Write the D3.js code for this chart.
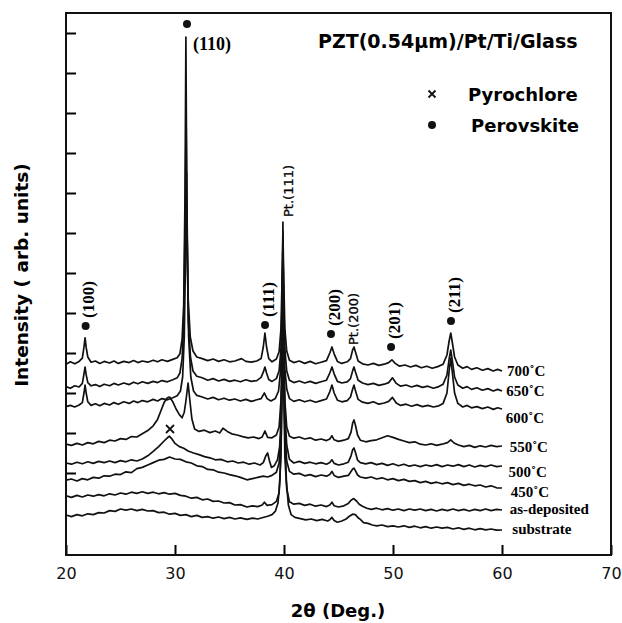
<!DOCTYPE html>
<html>
<head>
<meta charset="utf-8">
<script src="https://cdn.jsdelivr.net/npm/d3@7"></script>
<style>
  body { margin: 0; background: #fff; }
  svg { display: block; }
  .serif { font-family: "Liberation Serif", "Times New Roman", serif; font-weight: bold; }
  .sans { font-family: "DejaVu Sans", sans-serif; }
</style>
</head>
<body>
<div id="graph"></div>
<script>
// 2theta (deg) vs intensity (arb. units), curves already stacked
const s700 = [[20,47.2],[20.4,47.8],[20.8,47.3],[21.2,47.9],[21.5,48.7],[21.65,51.5],[21.75,53.8],[21.85,51.4],[22.0,49.0],[22.3,47.7],[22.7,48.0],[23.1,47.4],[23.5,47.9],[24.0,47.5],[24.4,48.0],[24.8,47.4],[25.3,47.9],[25.8,47.6],[26.2,48.1],[26.6,47.6],[27.0,48.0],[27.5,47.7],[28.0,48.2],[28.4,47.8],[28.8,48.3],[29.3,47.9],[29.8,48.4],[30.2,48.8],[30.45,49.8],[30.65,53.5],[30.8,62],[30.92,90],[31.0,129],[31.08,90],[31.2,64],[31.4,54],[31.65,50.5],[32.0,49.0],[32.5,48.6],[33.0,48.1],[33.5,48.5],[34.0,47.9],[34.5,48.3],[35.0,47.8],[35.5,48.0],[36.1,48.6],[36.5,47.9],[37.0,47.7],[37.5,48.0],[37.9,48.6],[38.1,51.5],[38.25,55],[38.4,51.5],[38.6,48.6],[38.9,47.8],[39.3,48.5],[39.55,50.3],[39.72,56],[39.82,68],[39.9,80.5],[39.98,68],[40.08,56],[40.25,50.5],[40.5,48.2],[40.9,47.6],[41.4,48.0],[41.9,47.4],[42.4,47.9],[42.9,47.3],[43.4,47.7],[43.9,48.1],[44.2,50.0],[44.4,51.5],[44.6,49.8],[44.9,47.9],[45.3,47.4],[45.8,47.8],[46.1,48.6],[46.3,50.8],[46.42,51.5],[46.55,50.3],[46.8,48.0],[47.2,47.3],[47.7,47.0],[48.2,47.4],[48.7,46.9],[49.2,47.2],[49.6,47.6],[49.9,48.3],[50.2,47.4],[50.6,46.7],[51.1,47.0],[51.6,46.5],[52.1,46.9],[52.6,46.3],[53.1,46.7],[53.6,46.2],[54.1,46.6],[54.6,47.2],[54.95,49.5],[55.15,53],[55.3,55],[55.45,52.5],[55.65,49],[55.95,47.0],[56.4,46.2],[56.8,46.6],[57.2,45.9],[57.7,46.3],[58.2,45.7],[58.7,46.1],[59.2,45.5],[59.6,45.9],[60,45.5]];

const s650 = [[20,41.6],[20.4,41.2],[20.8,41.8],[21.2,41.5],[21.5,42.4],[21.65,44.8],[21.75,46.5],[21.85,44.6],[22.0,42.6],[22.3,41.8],[22.7,42.1],[23.1,41.6],[23.5,42.2],[24.0,41.8],[24.4,42.4],[24.8,42.0],[25.3,42.5],[25.8,42.1],[26.2,42.7],[26.6,42.3],[27.0,42.8],[27.5,42.4],[28.0,42.9],[28.4,42.6],[28.8,43.1],[29.3,42.8],[29.8,43.3],[30.2,43.8],[30.45,45],[30.65,48.5],[30.8,57],[30.92,82],[31.02,108],[31.1,82],[31.22,58],[31.42,49],[31.65,45.5],[32.0,44.2],[32.5,43.8],[33.0,43.2],[33.5,43.6],[34.0,43.0],[34.5,43.4],[35.0,42.9],[35.5,43.2],[36.0,42.8],[36.5,43.3],[37.0,42.9],[37.5,43.1],[37.9,43.9],[38.1,45.2],[38.25,46.5],[38.4,45.0],[38.6,43.4],[38.9,42.9],[39.3,43.6],[39.55,45.5],[39.72,51],[39.82,62],[39.9,77],[39.98,62],[40.08,51],[40.25,45.5],[40.5,43.2],[40.9,42.6],[41.4,43.0],[41.9,42.5],[42.4,42.9],[42.9,42.4],[43.4,42.8],[43.9,43.2],[44.2,45.0],[44.4,46.5],[44.6,44.8],[44.9,42.9],[45.3,42.5],[45.8,42.8],[46.1,43.6],[46.3,45.6],[46.42,46.5],[46.55,45.3],[46.8,43.2],[47.2,42.5],[47.7,42.1],[48.2,42.4],[48.7,41.9],[49.2,42.2],[49.6,42.6],[49.95,43.8],[50.3,42.4],[50.7,41.7],[51.2,42.0],[51.7,41.5],[52.2,41.9],[52.7,41.4],[53.2,41.7],[53.7,41.2],[54.2,41.6],[54.6,42.2],[54.95,44.5],[55.15,48.5],[55.3,50.75],[55.45,48],[55.65,44],[55.95,42.0],[56.4,41.2],[56.8,41.6],[57.2,40.9],[57.7,41.3],[58.2,40.7],[58.7,41.1],[59.2,40.5],[59.6,40.9],[60,40.5]];

const s600 = [[20,36.6],[20.4,36.9],[20.8,36.5],[21.2,37.0],[21.5,37.6],[21.65,40.0],[21.75,42.0],[21.85,40.0],[22.0,37.8],[22.3,36.9],[22.7,37.3],[23.1,36.8],[23.5,37.4],[24.0,37.0],[24.4,37.6],[24.8,37.2],[25.3,37.8],[25.8,37.4],[26.2,38.0],[26.6,37.6],[27.0,38.1],[27.5,37.8],[28.0,38.4],[28.4,38.0],[28.8,38.6],[29.3,38.3],[29.8,38.8],[30.2,39.3],[30.5,40.5],[30.7,44],[30.85,54],[30.97,75],[31.05,95],[31.13,75],[31.25,54],[31.45,44],[31.7,40.5],[32.0,39.4],[32.5,39.0],[33.0,38.5],[33.5,38.9],[34.0,38.3],[34.5,38.7],[35.0,38.2],[35.5,38.5],[36.0,38.0],[36.5,38.4],[37.0,37.9],[37.5,38.3],[37.9,38.6],[38.2,40.0],[38.45,38.6],[38.8,38.0],[39.2,38.6],[39.5,40.5],[39.7,46],[39.8,57],[39.9,72],[39.98,57],[40.08,46],[40.25,41],[40.5,38.6],[40.9,37.9],[41.4,38.3],[41.9,37.8],[42.4,38.2],[42.9,37.7],[43.4,38.1],[43.9,38.5],[44.2,40.3],[44.4,42.0],[44.6,40.0],[44.9,38.2],[45.3,37.8],[45.8,38.1],[46.1,39.0],[46.3,41.0],[46.42,42.0],[46.55,40.6],[46.8,38.4],[47.2,37.7],[47.7,37.4],[48.2,37.8],[48.7,37.2],[49.2,37.5],[49.6,37.9],[49.95,38.9],[50.3,37.5],[50.7,36.9],[51.2,37.2],[51.7,36.7],[52.2,37.1],[52.7,36.6],[53.2,36.9],[53.7,36.5],[54.2,36.8],[54.6,37.4],[54.95,40],[55.15,45.5],[55.3,48.75],[55.45,45],[55.65,40],[55.95,37.4],[56.4,36.5],[56.8,36.9],[57.2,36.3],[57.7,36.6],[58.2,36.1],[58.7,36.5],[59.2,35.9],[59.6,36.3],[60,36.0]];

const s550 = [[20,27.2],[20.5,26.9],[21.0,27.4],[21.5,27.0],[22.0,27.6],[22.5,27.3],[23.0,27.9],[23.5,27.6],[24.0,28.2],[24.5,28.0],[25.0,28.6],[25.5,28.4],[26.0,29.1],[26.5,29.0],[27.0,29.8],[27.5,30.6],[28.0,31.8],[28.4,33.4],[28.7,35.5],[29.0,37.6],[29.3,38.8],[29.5,39.0],[29.8,37.8],[30.1,36.0],[30.4,34.6],[30.65,33.8],[30.85,35.2],[31.0,38.0],[31.2,42.5],[31.35,38.5],[31.55,33.5],[31.8,31.0],[32.2,30.4],[32.7,30.7],[33.2,30.1],[33.7,30.5],[34.1,30.0],[34.4,31.2],[34.8,30.4],[35.2,29.8],[35.7,29.5],[36.2,29.1],[36.7,28.8],[37.2,29.0],[37.7,28.6],[38.0,29.0],[38.25,30.5],[38.5,28.9],[38.9,28.8],[39.3,29.5],[39.55,31.5],[39.72,38],[39.82,50],[39.9,69.5],[39.98,50],[40.08,38],[40.25,31.5],[40.5,29.2],[40.9,28.7],[41.4,29.0],[41.9,28.5],[42.4,28.8],[42.9,28.2],[43.4,28.5],[43.9,28.1],[44.2,28.5],[44.4,29.3],[44.6,28.3],[45.0,27.9],[45.5,28.2],[45.9,28.6],[46.15,30.2],[46.3,32.5],[46.42,33.25],[46.55,32.0],[46.75,29.5],[47.0,28.2],[47.5,27.8],[48.0,28.1],[48.5,28.3],[49.0,28.8],[49.5,29.3],[50.0,28.9],[50.5,28.4],[51.0,28.0],[51.5,27.6],[52.0,27.8],[52.5,27.2],[53.0,27.0],[53.5,27.3],[54.0,26.9],[54.5,27.2],[55.0,27.6],[55.3,28.3],[55.6,27.5],[56.0,27.0],[56.5,26.6],[57.0,26.9],[57.5,26.4],[58.0,26.8],[58.5,26.5],[59.0,26.9],[59.5,26.6],[60,26.75]];

const s500 = [[20,22.5],[20.5,22.2],[21.0,22.7],[21.5,22.3],[22.0,22.8],[22.5,22.4],[23.0,22.9],[23.5,22.6],[24.0,23.0],[24.5,22.6],[25.0,23.1],[25.5,22.8],[26.0,23.3],[26.5,23.0],[27.0,23.5],[27.5,24.3],[28.0,25.4],[28.5,26.6],[29.0,28.0],[29.3,28.8],[29.5,29.2],[29.75,28.4],[30.0,27.4],[30.4,26.6],[30.8,26.2],[31.2,25.5],[31.7,25.0],[32.2,24.6],[32.7,24.1],[33.2,23.8],[33.7,23.3],[34.2,23.4],[34.8,22.8],[35.3,23.0],[35.8,22.5],[36.3,22.7],[36.8,22.2],[37.3,22.5],[37.8,22.0],[38.1,22.6],[38.35,24.4],[38.5,25.0],[38.65,23.2],[38.85,21.4],[39.1,21.8],[39.4,23.3],[39.6,26.5],[39.75,35],[39.84,50],[39.9,74.5],[39.98,50],[40.08,35],[40.25,27],[40.5,23.4],[40.9,22.5],[41.4,22.9],[41.9,22.4],[42.4,22.7],[42.9,22.3],[43.4,22.6],[43.9,22.2],[44.2,22.6],[44.4,23.3],[44.6,22.4],[45.0,22.0],[45.5,22.3],[45.9,22.7],[46.15,24.3],[46.3,25.8],[46.42,26.25],[46.55,25.2],[46.75,23.2],[47.0,22.6],[47.5,22.3],[48.0,22.6],[48.5,22.1],[49.0,22.4],[49.5,21.9],[50.0,22.3],[50.5,21.8],[51.0,22.2],[51.5,21.7],[52.0,22.0],[52.5,21.6],[53.0,22.0],[53.5,21.7],[54.0,22.1],[54.5,21.6],[55.0,22.0],[55.5,21.7],[56.0,22.1],[56.5,21.6],[57.0,22.0],[57.5,21.5],[58.0,21.9],[58.5,21.6],[59.0,22.0],[59.5,21.6],[60,21.75]];

const s450 = [[20,18.2],[20.5,18.5],[21.0,18.0],[21.5,18.6],[22.0,18.3],[22.5,18.9],[23.0,18.7],[23.5,19.3],[24.0,19.2],[24.5,19.7],[25.0,19.6],[25.5,20.3],[26.0,20.1],[26.5,21.1],[27.0,21.4],[27.5,22.0],[28.0,22.6],[28.5,23.2],[29.0,23.4],[29.5,24.0],[30.0,23.5],[30.5,23.4],[31.0,22.8],[31.5,22.5],[32.0,21.8],[32.5,21.6],[33.0,20.9],[33.5,20.8],[34.0,20.2],[34.5,20.0],[35.0,19.6],[35.5,19.3],[36.0,18.9],[36.6,18.3],[37.1,18.6],[37.6,18.9],[38.1,19.2],[38.5,19.0],[38.9,19.4],[39.3,20.2],[39.55,22.5],[39.72,30],[39.82,45],[39.9,73.25],[39.98,45],[40.08,30],[40.25,23],[40.5,20.4],[40.9,19.7],[41.4,19.9],[41.9,19.3],[42.4,19.6],[42.9,19.1],[43.4,19.5],[43.9,19.2],[44.2,19.6],[44.4,20.4],[44.6,19.4],[45.0,18.9],[45.5,19.2],[45.9,19.4],[46.15,20.4],[46.3,21.0],[46.42,21.2],[46.55,20.6],[46.75,19.5],[47.0,19.0],[47.5,18.7],[48.0,19.0],[48.5,18.5],[49.0,18.8],[49.5,18.3],[50.0,18.6],[50.5,18.1],[51.0,18.4],[51.5,17.9],[52.0,18.1],[52.5,17.6],[53.0,17.9],[53.5,17.4],[54.0,17.7],[54.5,17.3],[55.0,17.6],[55.5,17.1],[56.0,17.4],[56.5,16.9],[57.0,17.2],[57.5,16.8],[58.0,17.0],[58.5,16.5],[59.0,16.8],[59.5,16.3],[60,16.25]];

const sAsDep = [[20,14.3],[20.5,13.9],[21.0,14.4],[21.5,14.0],[22.0,14.5],[22.5,14.2],[23.0,14.6],[23.5,14.3],[24.0,14.8],[24.5,14.5],[25.0,15.0],[25.5,14.7],[26.0,15.2],[26.5,14.9],[27.0,15.3],[27.5,14.9],[28.0,15.2],[28.5,14.8],[29.0,15.1],[29.5,14.7],[30.0,14.9],[30.5,14.4],[31.0,14.2],[31.5,13.7],[32.0,13.9],[32.5,13.3],[33.0,13.5],[33.5,12.9],[34.0,13.0],[34.5,12.5],[35.0,12.6],[35.5,12.0],[36.0,12.1],[36.6,11.5],[37.1,11.8],[37.6,11.6],[38.0,12.0],[38.2,12.7],[38.45,11.9],[38.9,12.1],[39.3,12.9],[39.55,15],[39.72,24],[39.82,42],[39.9,78.25],[39.98,42],[40.08,24],[40.25,16],[40.5,12.8],[40.9,12.2],[41.4,12.4],[41.9,11.9],[42.4,12.2],[42.9,11.7],[43.4,12.0],[43.9,11.6],[44.2,12.0],[44.4,12.7],[44.6,11.8],[45.0,11.5],[45.5,11.8],[45.9,12.4],[46.15,13.2],[46.4,13.6],[46.65,13.0],[46.9,12.2],[47.2,11.7],[47.6,11.2],[48.0,10.9],[48.5,11.2],[49.0,10.8],[49.5,11.1],[50.0,10.7],[50.5,11.0],[51.0,10.6],[51.5,11.0],[52.0,10.7],[52.5,11.0],[53.0,10.6],[53.5,10.9],[54.0,10.5],[54.5,10.9],[55.0,10.6],[55.5,11.0],[56.0,10.6],[56.5,10.9],[57.0,10.5],[57.5,10.9],[58.0,10.6],[58.5,11.0],[59.0,10.6],[59.5,10.9],[60,10.75]];

const sSubstrate = [[20,9.5],[20.5,9.1],[21.0,9.6],[21.5,9.3],[22.0,9.8],[22.5,9.6],[23.0,10.1],[23.5,10.0],[24.0,10.6],[24.5,10.4],[25.0,11.0],[25.5,10.7],[26.0,11.0],[26.5,10.6],[27.0,10.9],[27.5,10.5],[28.0,10.6],[28.5,10.1],[29.0,10.2],[29.5,9.7],[30.0,9.9],[30.5,9.4],[31.0,9.6],[31.5,9.1],[32.0,9.4],[32.5,8.9],[33.0,9.1],[33.5,8.7],[34.0,9.0],[34.5,8.6],[35.0,8.9],[35.5,8.5],[36.0,8.8],[36.6,8.4],[37.1,8.7],[37.6,8.5],[38.0,8.8],[38.5,9.2],[38.9,9.6],[39.2,10.4],[39.45,12.5],[39.62,18],[39.75,30],[39.84,50],[39.9,82.75],[39.98,50],[40.08,30],[40.22,18],[40.4,12],[40.65,9.6],[41.0,8.9],[41.5,8.6],[42.0,8.3],[42.5,8.5],[43.0,8.1],[43.5,8.4],[44.0,8.0],[44.2,8.3],[44.4,8.9],[44.6,8.1],[44.9,7.7],[45.3,8.0],[45.7,8.5],[46.0,9.2],[46.3,9.7],[46.55,9.6],[46.8,8.8],[47.0,8.4],[47.3,7.6],[47.7,7.4],[48.1,7.0],[48.5,6.8],[49.0,7.0],[49.5,6.6],[50.0,6.8],[50.5,6.5],[51.0,6.8],[51.5,6.4],[52.0,6.7],[52.5,6.3],[53.0,6.6],[53.5,6.2],[54.0,6.5],[54.5,6.2],[55.0,6.4],[55.5,6.0],[56.0,6.3],[56.5,5.9],[57.0,6.2],[57.5,5.8],[58.0,6.1],[58.5,5.8],[59.0,6.0],[59.5,5.7],[60,5.75]];

const seriesNames = ["700˚C", "650˚C", "600˚C", "550˚C", "500˚C", "450˚C", "as-deposited", "substrate"];
const seriesData = [s700, s650, s600, s550, s500, s450, sAsDep, sSubstrate];
// where each curve's name sits: [2theta, intensity]
const namePos = [[60.45,44.25],[60.4,39.25],[60.35,32.5],[60.7,25.25],[60.6,19],[60.8,14],[60.7,9.75],[60.95,4.75]];

const xTicks = [20, 30, 40, 50, 60, 70];
const yTicks = [20, 30, 40, 50, 60, 70, 80, 90, 100, 110, 120, 130];

const perovPeaks = ["(100)", "(110)", "(111)", "(200)", "(201)", "(211)"];
const perovPos = [[21.8,56.75],[31.1,132.25],[38.26,57],[44.31,54.75],[49.82,51.5],[55.32,58]];
const ptPeaks = ["Pt.(111)", "Pt.(200)"];
const ptPos = [[40.37,84],[46.33,52]];
const pyroPos = [[29.54,31]];

(function() {
  const W = 622, H = 623;
  const x = d3.scaleLinear().domain([20, 70]).range([66, 611]);
  const y = d3.scaleLinear().domain([-0.5, 135]).range([555, 13]);

  const svg = d3.select("#graph").append("svg")
    .attr("width", W).attr("height", H);

  // tick marks, pointing inward
  const xAxis = svg.append("g")
    .attr("transform", "translate(0,555)")
    .call(d3.axisBottom(x).tickValues(xTicks).tickSizeInner(-10).tickSizeOuter(0).tickPadding(13));
  xAxis.select(".domain").remove();
  xAxis.selectAll(".tick line").attr("stroke-width", 2);
  xAxis.selectAll(".tick text")
    .attr("class", "sans")
    .style("font-size", "16px")
    .attr("fill", "#111");

  const yAxis = svg.append("g")
    .attr("transform", "translate(66,0)")
    .call(d3.axisLeft(y).tickValues(yTicks).tickSizeInner(-10).tickSizeOuter(0).tickFormat(""));
  yAxis.select(".domain").remove();
  yAxis.selectAll(".tick line").attr("stroke-width", 2);

  const line = d3.line().x(d => x(d[0])).y(d => y(d[1]));

  svg.append("g").selectAll("path")
    .data(seriesData)
    .enter().append("path")
    .attr("d", line)
    .attr("fill", "none")
    .attr("stroke", "#111")
    .attr("stroke-width", 1.7)
    .attr("stroke-linejoin", "round");

  // frame
  svg.append("rect")
    .attr("x", x(20)).attr("y", y(135))
    .attr("width", x(70) - x(20)).attr("height", y(-0.5) - y(135))
    .attr("fill", "none").attr("stroke", "#111").attr("stroke-width", 2);

  // curve names
  svg.append("g").selectAll("text")
    .data(seriesNames)
    .enter().append("text")
    .attr("class", "serif")
    .attr("x", (d, i) => x(namePos[i][0]))
    .attr("y", (d, i) => y(namePos[i][1]))
    .style("font-size", "15px")
    .text(d => d);

  // perovskite markers
  svg.append("g").selectAll("circle")
    .data(perovPos)
    .enter().append("circle")
    .attr("cx", d => x(d[0])).attr("cy", d => y(d[1]))
    .attr("r", 4).attr("fill", "#111");

  svg.append("g").selectAll("text")
    .data(perovPeaks)
    .enter().append("text")
    .attr("class", "serif")
    .style("font-size", (d, i) => i === 1 ? "18px" : "17px")
    .attr("transform", (d, i) => {
      const px = x(perovPos[i][0]), py = y(perovPos[i][1]);
      return i === 1 ? `translate(${px + 6},${py + 26})` : `translate(${px + 3},${py - 8}) rotate(-90)`;
    })
    .attr("dy", (d, i) => i === 1 ? 0 : "0.33em")
    .text(d => d);

  svg.append("g").selectAll("text")
    .data(ptPeaks)
    .enter().append("text")
    .attr("class", "sans")
    .style("font-size", "13px")
    .attr("stroke", "#111").attr("stroke-width", 0.3)
    .attr("transform", (d, i) => `translate(${x(ptPos[i][0])},${y(ptPos[i][1])}) rotate(-90)`)
    .attr("dy", "0.36em")
    .text(d => d);

  const cross = (g, cx, cy, r) => {
    g.append("path")
      .attr("d", `M${cx - r},${cy - r}L${cx + r},${cy + r}M${cx - r},${cy + r}L${cx + r},${cy - r}`)
      .attr("stroke", "#111").attr("stroke-width", 1.8).attr("fill", "none");
  };
  pyroPos.forEach(p => cross(svg, x(p[0]), y(p[1]), 4));

  // title and legend
  svg.append("text")
    .attr("class", "sans")
    .attr("x", 318).attr("y", 48)
    .style("font-size", "19px").style("font-weight", "bold")
    .text("PZT(0.54μm)/Pt/Ti/Glass");

  cross(svg, 432, 94, 3.5);
  svg.append("text")
    .attr("class", "sans")
    .attr("x", 468).attr("y", 101)
    .style("font-size", "18px").style("font-weight", "bold")
    .text("Pyrochlore");
  svg.append("circle").attr("cx", 432).attr("cy", 125).attr("r", 4).attr("fill", "#111");
  svg.append("text")
    .attr("class", "sans")
    .attr("x", 471).attr("y", 132)
    .style("font-size", "18px").style("font-weight", "bold")
    .text("Perovskite");

  // axis titles
  svg.append("text")
    .attr("class", "sans")
    .attr("transform", "translate(28,275) rotate(-90)")
    .attr("text-anchor", "middle")
    .style("font-size", "18.5px").style("font-weight", "bold")
    .text("Intensity ( arb. units)");

  svg.append("text")
    .attr("class", "sans")
    .attr("x", 338).attr("y", 617)
    .attr("text-anchor", "middle")
    .style("font-size", "18px").style("font-weight", "bold")
    .text("2θ (Deg.)");
})();
</script>
</body>
</html>
